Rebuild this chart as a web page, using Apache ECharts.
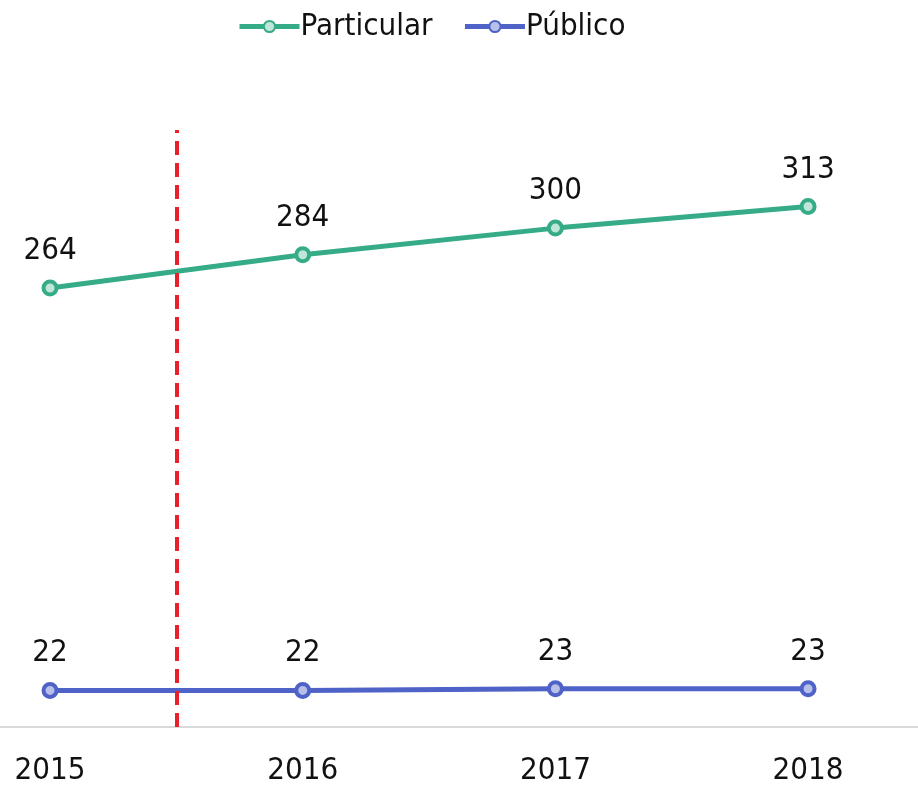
<!DOCTYPE html>
<html lang="es">
<head>
    <meta charset="UTF-8">
    <title>Particular vs Público</title>
    <script src="https://cdn.jsdelivr.net/npm/echarts@6/dist/echarts.min.js"></script>
</head>
<style>
    html,body{margin:0;padding:0;background:#fff;}
    #chart{width:918px;height:792px;}
</style>
<body>
    <div id="chart"></div>
    <script>
        var years=['2015','2016','2017','2018'];
        var particular=[264,284,300,313];
        var publico=[22,22,23,23];
        var cutAt=0.5; // linea roja entre 2015 y 2016

        var font='DejaVu Sans Condensed';
        var green='#36ab87',blue='#4f62c8';

        function toPoints(arr){
            return arr.map(function(v,i){return [i,v];});
        }

        var chart=echarts.init(document.getElementById('chart'));
        chart.setOption({
            animation:false,
            legend:{
                top:6,
                left:232,
                itemWidth:60,
                itemHeight:14,
                itemGap:30,
                lineStyle:{width:5},
                textStyle:{fontFamily:font,fontSize:31,color:'#111',padding:[0,0,0,-4]},
                data:['Particular','Público']
            },
            grid:{left:0,right:0,top:130,bottom:65},
            xAxis:{
                type:'value',
                min:-0.198,
                max:3.435,
                splitLine:{show:false},
                axisLine:{show:true,onZero:false,lineStyle:{color:'#d9d9d9',width:2}},
                axisTick:{show:false},
                axisLabel:{
                    customValues:[0,1,2,3],
                    margin:28,
                    fontFamily:font,
                    fontSize:31,
                    color:'#111',
                    formatter:function(v){return years[Math.round(v)];}
                }
            },
            yAxis:{
                type:'value',
                min:0,
                max:359,
                show:false,
                splitLine:{show:false}
            },
            series:[
                {
                    name:'Particular',
                    type:'line',
                    data:toPoints(particular),
                    symbol:'circle',
                    symbolSize:13,
                    itemStyle:{color:'#bfe6d8',borderColor:green,borderWidth:4},
                    lineStyle:{color:green,width:5},
                    label:{show:true,position:'top',distance:13,fontFamily:font,fontSize:31,color:'#111'},
                    markLine:{
                        silent:true,
                        symbol:'none',
                        label:{show:false},
                        lineStyle:{color:'#e8202e',type:[14,8],width:4},
                        data:[{xAxis:cutAt}]
                    }
                },
                {
                    name:'Público',
                    type:'line',
                    data:toPoints(publico),
                    symbol:'circle',
                    symbolSize:13,
                    itemStyle:{color:'#b8c0ea',borderColor:blue,borderWidth:4},
                    lineStyle:{color:blue,width:5},
                    label:{show:true,position:'top',distance:13,fontFamily:font,fontSize:31,color:'#111'}
                }
            ]
        });
    </script>
</body>
</html>
